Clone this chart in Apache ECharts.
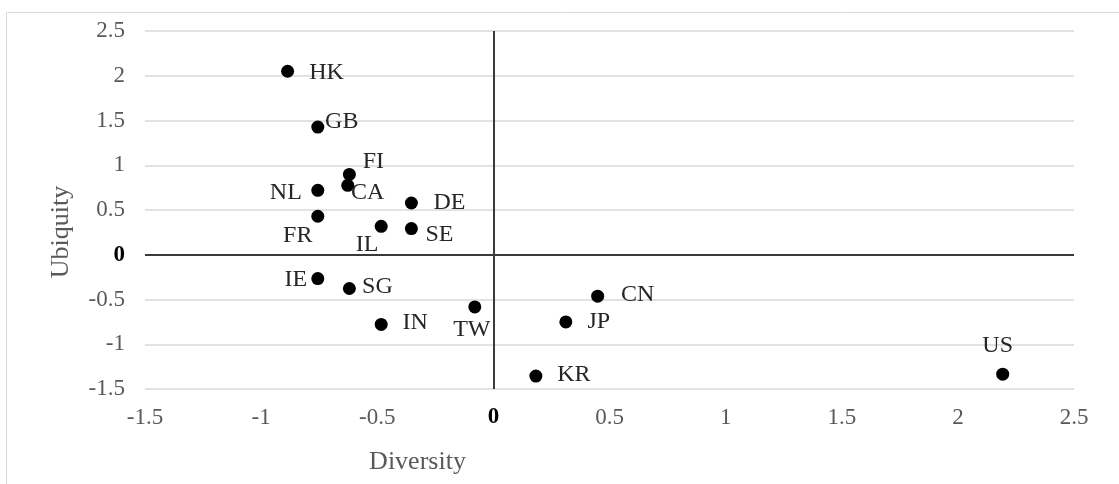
<!DOCTYPE html>
<html>
<head>
<meta charset="utf-8">
<script src="https://cdn.jsdelivr.net/npm/echarts@6/dist/echarts.min.js"></script>
<style>
html,body{margin:0;padding:0;background:#fff;}
#chart{width:1119px;height:484px;}
</style>
</head>
<body>
<div id="chart"></div>
<script>
// ---- data ----
const countries = ['HK','GB','FI','CA','NL','DE','FR','IL','SE','IE','SG','TW','IN','CN','JP','KR','US'];
const diversity = [-0.886,-0.756,-0.62,-0.627,-0.756,-0.353,-0.756,-0.483,-0.353,-0.756,-0.62,-0.08,-0.483,0.449,0.312,0.183,2.193];
const ubiquity  = [2.05,1.426,0.898,0.776,0.72,0.578,0.43,0.318,0.292,-0.266,-0.377,-0.583,-0.779,-0.463,-0.75,-1.356,-1.334];
const axisMin = -1.5, axisMax = 2.5, axisStep = 0.5;
const xName = 'Diversity', yName = 'Ubiquity';

// ---- label placement (style, kept apart from data) ----
const labelOffset = {
  HK:[39,1], GB:[24,-5], FI:[24,-13], CA:[20,7], NL:[-32,2], DE:[38,0], FR:[-20,19],
  IL:[-14,18], SE:[28,6], IE:[-22,1], SG:[28,-2], TW:[-3,23], IN:[34,-2],
  CN:[40,-1], JP:[33,0], KR:[38,-1], US:[-5,-28]
};

const FONT = 'Liberation Serif';
const points = countries.map((c,i)=>({
  name:c,
  value:[diversity[i], ubiquity[i]],
  label:{offset: labelOffset[c]}
}));

const tickFmt = v => (Math.abs(v) < 1e-9 ? '{z|0}' : String(+v.toFixed(2)));
const richZero = {z:{fontFamily:FONT,fontSize:23,fontWeight:'bold',color:'#000'}};

const chart = echarts.init(document.getElementById('chart'), null, {renderer:'canvas'});
chart.setOption({
  animation:false,
  backgroundColor:'#fff',
  graphic:[{
    type:'rect', silent:true, z:-10,
    shape:{x:6.5,y:12.5,width:1300,height:700},
    style:{fill:'none',stroke:'#d9d9d9',lineWidth:1}
  }],
  grid:{left:145,right:45,top:31,bottom:95,containLabel:false},
  xAxis:{
    type:'value', min:axisMin, max:axisMax, interval:axisStep,
    axisLine:{show:false,onZero:false}, axisTick:{show:false},
    splitLine:{show:false},
    axisLabel:{margin:17,fontFamily:FONT,fontSize:23,color:'#595959',formatter:tickFmt,rich:richZero},
    name:xName, nameLocation:'middle', nameGap:60,
    nameTextStyle:{fontFamily:FONT,fontSize:26,color:'#595959',padding:[0,384,0,0]}
  },
  yAxis:{
    type:'value', min:axisMin, max:axisMax, interval:axisStep,
    axisLine:{show:false,onZero:false}, axisTick:{show:false},
    splitLine:{show:true,lineStyle:{color:'#d9d9d9',width:1.5}},
    axisLabel:{margin:20,fontFamily:FONT,fontSize:23,color:'#595959',formatter:tickFmt,rich:richZero},
    name:yName, nameLocation:'middle', nameGap:71, nameRotate:90,
    nameTextStyle:{fontFamily:FONT,fontSize:26,color:'#595959',padding:[0,44,0,0]}
  },
  series:[{
    type:'scatter',
    symbol:'circle', symbolSize:13,
    itemStyle:{color:'#000',opacity:1},
    data:points,
    label:{
      show:true, position:'inside', formatter:'{b}',
      fontFamily:FONT, fontSize:24, color:'#262626',
      align:'center', verticalAlign:'middle'
    },
    markLine:{
      silent:true, symbol:'none', animation:false,
      label:{show:false},
      lineStyle:{color:'#3a3a3a',width:2,type:'solid'},
      data:[{xAxis:0},{yAxis:0}]
    }
  }]
});
</script>
</body>
</html>
